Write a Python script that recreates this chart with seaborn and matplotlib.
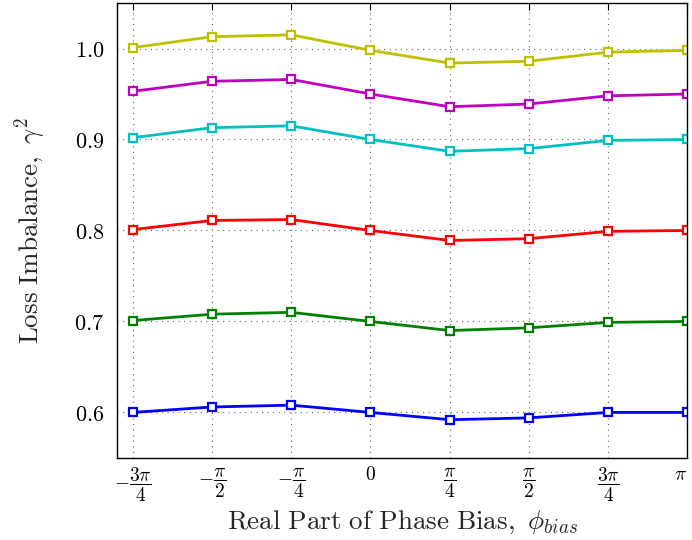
import numpy as np
import pandas as pd
import matplotlib
matplotlib.use("Agg")
import matplotlib.pyplot as plt
import seaborn as sns

sns.set_style("white")
plt.rcParams['mathtext.fontset'] = 'cm'
plt.rcParams['font.family'] = ['DejaVu Serif']

x_labels = [r'$-\dfrac{3\pi}{4}$', r'$-\dfrac{\pi}{2}$', r'$-\dfrac{\pi}{4}$', r'$0$',
            r'$\dfrac{\pi}{4}$', r'$\dfrac{\pi}{2}$', r'$\dfrac{3\pi}{4}$', r'$\pi$']
phase_bias = [-3*np.pi/4, -np.pi/2, -np.pi/4, 0, np.pi/4, np.pi/2, 3*np.pi/4, np.pi]

s_blue = [0.600, 0.606, 0.608, 0.600, 0.592, 0.594, 0.600, 0.600]
s_green = [0.701, 0.708, 0.710, 0.700, 0.690, 0.693, 0.699, 0.700]
s_red = [0.801, 0.811, 0.812, 0.800, 0.789, 0.791, 0.799, 0.800]
s_cyan = [0.902, 0.913, 0.915, 0.900, 0.887, 0.890, 0.899, 0.900]
s_magenta = [0.953, 0.964, 0.966, 0.950, 0.936, 0.939, 0.948, 0.950]
s_yellow = [1.001, 1.013, 1.015, 0.998, 0.984, 0.986, 0.996, 0.998]

series_names = ['blue', 'green', 'red', 'cyan', 'magenta', 'yellow']
series_vals = [s_blue, s_green, s_red, s_cyan, s_magenta, s_yellow]
colors = {'blue': '#0000ff', 'green': '#008000', 'red': '#ff0000',
          'cyan': '#00bfbf', 'magenta': '#bf00bf', 'yellow': '#bfbf00'}

y_ticks = [0.6, 0.7, 0.8, 0.9, 1.0]

rows = []
for name, vals in zip(series_names, series_vals):
    for xv, yv in zip(phase_bias, vals):
        rows.append({'x': xv, 'y': yv, 'series': name})
df = pd.DataFrame(rows)

fig = plt.figure(figsize=(6.92, 5.40), dpi=100)
ax = fig.add_axes([0.169, 0.152, 0.824, 0.8424])

sns.lineplot(data=df, x='x', y='y', hue='series', palette=colors,
             marker='s', markersize=5.5, markeredgewidth=1.6,
             linewidth=2.0, legend=False, ax=ax, sort=False)
for line, name in zip(ax.lines, series_names):
    line.set_markeredgecolor(colors[name])
    line.set_markerfacecolor('white')

ax.set_xlim(-2.515, np.pi)
ax.set_ylim(0.55, 1.05)
ax.set_xticks(phase_bias)
ax.set_xticklabels(x_labels)
ax.get_xticklabels()[-1].set_horizontalalignment('right')
ax.set_yticks(y_ticks)
ax.set_yticklabels([r'$%.1f$' % v for v in y_ticks])
ax.tick_params(direction='in', length=5, width=0.8, top=True, right=True,
               labelsize=16, colors='black', pad=9)
ax.tick_params(axis='x', labelsize=14, pad=6)
ax.grid(True, linestyle=(0, (1, 4)), color='#666666', linewidth=0.8)
for sp in ax.spines.values():
    sp.set_color('black')
    sp.set_linewidth(1.0)

ax.set_xlabel(r'$\mathrm{Real\ Part\ of\ Phase\ Bias,}\ \phi_{bias}$', fontsize=19.5, labelpad=3)
ax.set_ylabel(r'$\mathrm{Loss\ Imbalance,}\ \gamma^2$', fontsize=19.5, labelpad=19)

fig.savefig('out.png', dpi=100)
